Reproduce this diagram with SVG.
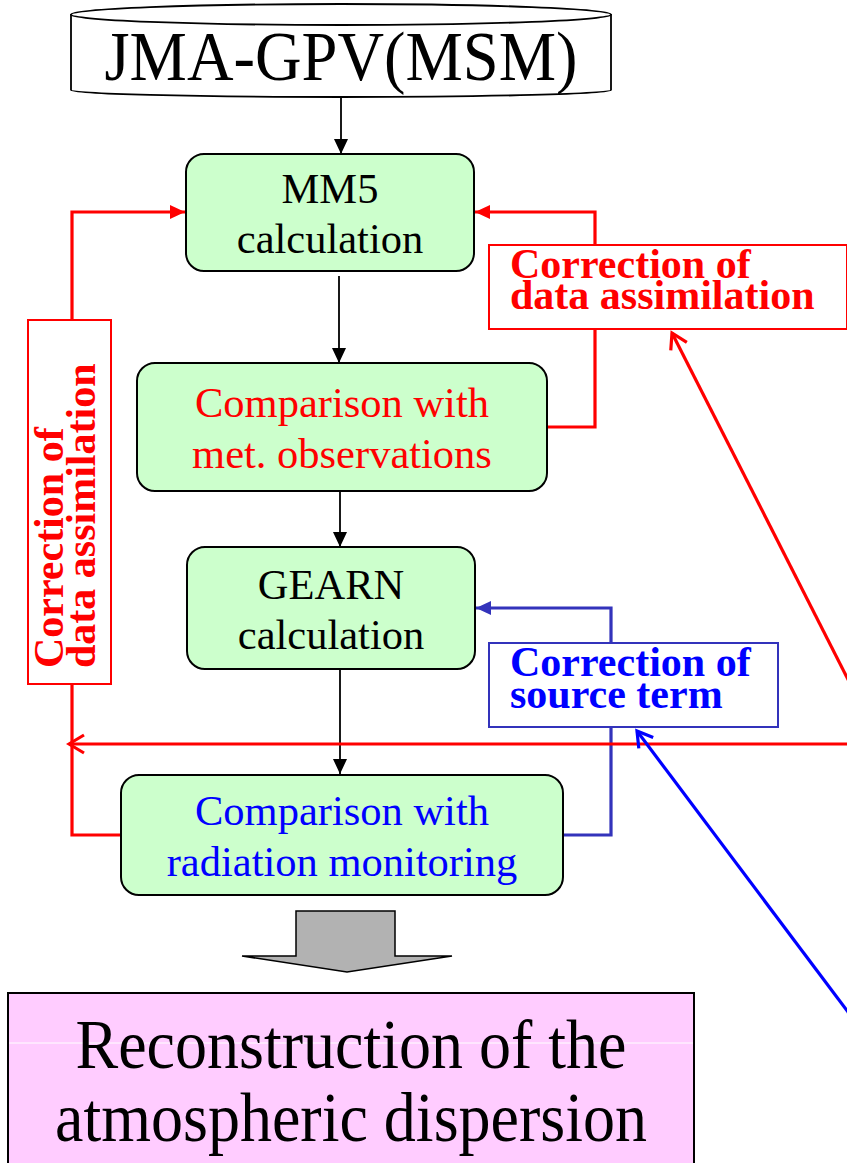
<svg xmlns="http://www.w3.org/2000/svg" width="847" height="1163" viewBox="0 0 847 1163">
<style>
.box{fill:#CCFFCC;stroke:#000;stroke-width:2}
.t{font-family:"Liberation Serif","Times New Roman",serif;text-anchor:middle;font-size:42.5px}
.lb{font-family:"Liberation Serif","Times New Roman",serif;font-weight:bold;font-size:42px}
.blk{stroke:#000;stroke-width:1.8;fill:none}
.red{stroke:#FF0000;stroke-width:3.2;fill:none}
.blu{stroke:#3333BB;stroke-width:3.2;fill:none}
.blu2{stroke:#0000FF;stroke-width:3.2;fill:none}
</style>
<defs>
<marker id="ak" markerUnits="userSpaceOnUse" markerWidth="16" markerHeight="14" refX="15" refY="7" orient="auto"><path d="M0,0 L15,7 L0,14 Z" fill="#000"/></marker>
<marker id="ar" markerUnits="userSpaceOnUse" markerWidth="16" markerHeight="14" refX="15" refY="7" orient="auto"><path d="M0,0 L15,7 L0,14 Z" fill="#FF0000"/></marker>
<marker id="ab" markerUnits="userSpaceOnUse" markerWidth="16" markerHeight="14" refX="15" refY="7" orient="auto"><path d="M0,0 L15,7 L0,14 Z" fill="#3333BB"/></marker>
<marker id="or" markerUnits="userSpaceOnUse" markerWidth="20" markerHeight="22" refX="17" refY="11" orient="auto"><path d="M2,2 L17,11 L2,20" fill="none" stroke="#FF0000" stroke-width="3.2"/></marker>
<marker id="ob" markerUnits="userSpaceOnUse" markerWidth="20" markerHeight="22" refX="17" refY="11" orient="auto"><path d="M2,2 L17,11 L2,20" fill="none" stroke="#0000FF" stroke-width="3.2"/></marker>
</defs>
<rect width="847" height="1163" fill="#fff"/>

<g id="connectors">
<line class="blk" x1="341" y1="97" x2="341" y2="154" marker-end="url(#ak)"/>
<line class="blk" x1="339" y1="276" x2="339" y2="363" marker-end="url(#ak)"/>
<line class="blk" x1="340" y1="491" x2="340" y2="547" marker-end="url(#ak)"/>
<line class="blk" x1="340" y1="669" x2="340" y2="774" marker-end="url(#ak)"/>
<polyline class="red" points="121,835 72,835 72,212 185,212" marker-end="url(#ar)"/>
<polyline class="red" points="547,427 595,427 595,212 475,212" marker-end="url(#ar)"/>
<polyline class="blu" points="563,835 611,835 611,608 476,608" marker-end="url(#ab)"/>
<line class="red" x1="847" y1="744" x2="69" y2="744" marker-end="url(#or)"/>
<line class="red" x1="860" y1="703" x2="672" y2="333" marker-end="url(#or)"/>
<line class="blu2" x1="860" y1="1028" x2="637" y2="731" marker-end="url(#ob)"/>
</g>

<g id="jma">
<path d="M71,14 L71,90 A270,7 0 0 0 611,90 L611,14" fill="#fff" stroke="#000" stroke-width="1.8"/>
<ellipse cx="341" cy="14.5" rx="270" ry="10.5" fill="#fff" stroke="#000" stroke-width="1.8"/>
<text x="341" y="80" font-family="Liberation Serif,Times New Roman,serif" font-size="70" text-anchor="middle" textLength="473" lengthAdjust="spacingAndGlyphs">JMA-GPV(MSM)</text>
</g>

<g id="mm5">
<rect class="box" x="186" y="154" width="288" height="117" rx="18"/>
<text class="t" x="330" y="203">MM5</text>
<text class="t" x="330" y="253">calculation</text>
</g>

<g id="met">
<rect class="box" x="137" y="363" width="410" height="128" rx="18"/>
<text class="t" x="342" y="417" fill="#FF0000">Comparison with</text>
<text class="t" x="342" y="468" fill="#FF0000">met. observations</text>
</g>

<g id="gearn">
<rect class="box" x="187" y="547" width="288" height="122" rx="18"/>
<text class="t" x="331" y="599">GEARN</text>
<text class="t" x="331" y="649">calculation</text>
</g>

<g id="radiation">
<rect class="box" x="121" y="775" width="442" height="120" rx="18"/>
<text class="t" x="342" y="825" fill="#0000FF">Comparison with</text>
<text class="t" x="342" y="876" fill="#0000FF">radiation monitoring</text>
</g>

<g id="label-left">
<rect x="28" y="320" width="83" height="364" fill="#fff" stroke="#FF0000" stroke-width="2"/>
<g transform="translate(63,668) rotate(-90)">
<text class="lb" x="0" y="0" fill="#FF0000">Correction of</text>
<text class="lb" x="0" y="32" fill="#FF0000">data assimilation</text>
</g>
</g>

<g id="label-right">
<rect x="489" y="245" width="358" height="84" fill="#fff" stroke="#FF0000" stroke-width="2"/>
<text class="lb" x="510" y="278" fill="#FF0000">Correction of</text>
<text class="lb" x="510" y="309" fill="#FF0000">data assimilation</text>
</g>

<g id="label-source">
<rect x="489" y="643" width="289" height="84" fill="#fff" stroke="#3333BB" stroke-width="2"/>
<text class="lb" x="510" y="676" fill="#0000FF">Correction of</text>
<text class="lb" x="510" y="708" fill="#0000FF">source term</text>
</g>

<g id="big-arrow">
<path d="M296,911 L395,911 L395,956 L452,956 L347,972 L242,956 L296,956 Z" fill="#B2B2B2" stroke="#000" stroke-width="1.5"/>
</g>

<g id="result">
<rect x="8" y="993" width="686" height="180" fill="#FFCCFF" stroke="#000" stroke-width="2"/>
<line x1="9" y1="1043" x2="693" y2="1043" stroke="#fff" stroke-width="1"/>
<text x="351" y="1068" font-family="Liberation Serif,Times New Roman,serif" font-size="69" text-anchor="middle" textLength="551" lengthAdjust="spacingAndGlyphs">Reconstruction of the</text>
<text x="351" y="1141" font-family="Liberation Serif,Times New Roman,serif" font-size="69" text-anchor="middle" textLength="592" lengthAdjust="spacingAndGlyphs">atmospheric dispersion</text>
</g>
</svg>
